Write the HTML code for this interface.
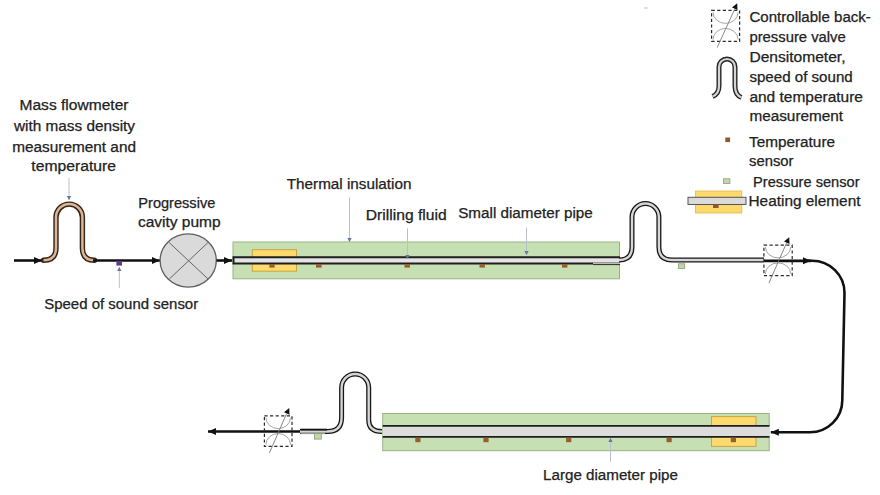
<!DOCTYPE html>
<html><head><meta charset="utf-8">
<style>
html,body{margin:0;padding:0;background:#fff;width:880px;height:495px;overflow:hidden}
svg{display:block}
text{font-family:"Liberation Sans",sans-serif;font-size:13.8px;fill:#222;stroke:#222;stroke-width:0.25px}
</style></head>
<body>
<svg width="880" height="495" viewBox="0 0 880 495">
<defs>
<marker id="ah" markerWidth="10" markerHeight="10" refX="9" refY="5" orient="auto" markerUnits="userSpaceOnUse"><path d="M1,1.5 L9,5 L1,8.5 Z" fill="#111"/></marker>
<marker id="ap" markerWidth="6" markerHeight="6" refX="4.5" refY="3" orient="auto" markerUnits="userSpaceOnUse"><path d="M0.5,0.8 L4.5,3 L0.5,5.2 Z" fill="#64789a"/></marker>
</defs>

<!-- ===== Left: inlet, flowmeter, pump ===== -->
<line x1="14" y1="260.5" x2="42" y2="260.5" stroke="#111" stroke-width="2.6" marker-end="url(#ah)"/>
<path d="M43.5,260.3 Q56,260.3 56,248 L56,217.3 A13.2,13.2 0 0 1 82.4,217.3 L82.4,248 Q82.4,260.3 94.5,260.3" fill="none" stroke="#35261c" stroke-width="5.4" stroke-linecap="round"/>
<path d="M43.5,260.3 Q56,260.3 56,248 L56,217.3 A13.2,13.2 0 0 1 82.4,217.3 L82.4,248 Q82.4,260.3 94.5,260.3" fill="none" stroke="#dcb496" stroke-width="2.5"/>
<line x1="93" y1="260.5" x2="160" y2="260.5" stroke="#111" stroke-width="2.6" marker-end="url(#ah)"/>
<rect x="116.4" y="260.8" width="5.6" height="4.8" fill="#5e3a8e"/>
<!-- pump -->
<ellipse cx="188.2" cy="260.5" rx="28.1" ry="26.6" fill="#dadada" stroke="#5e5e5e" stroke-width="1.3"/>
<line x1="169.1" y1="242.5" x2="208" y2="278.9" stroke="#666" stroke-width="1"/>
<line x1="208" y1="242.5" x2="169.4" y2="278.9" stroke="#666" stroke-width="1"/>
<line x1="216.5" y1="260.5" x2="232" y2="260.5" stroke="#111" stroke-width="2.6" marker-end="url(#ah)"/>

<!-- ===== Top green insulation ===== -->
<rect x="233" y="242" width="386.5" height="36.8" fill="#c6e0b4" stroke="#97b384" stroke-width="1"/>
<rect x="252.3" y="249.7" width="44.2" height="21.5" fill="#fdd96e" stroke="#c9a640" stroke-width="1"/>
<rect x="233.5" y="257.3" width="386.5" height="6.3" fill="#e4e4e4"/>
<path d="M620,257.3 L233.5,257.3 L233.5,263.6 L620,263.6" fill="none" stroke="#1e1e1e" stroke-width="2"/>
<path d="M593,263.3 L620,263.3" stroke="#c4c4c4" stroke-width="1.3"/>
<path d="M593,264.6 L620,264.6" stroke="#2a2a2a" stroke-width="0.9"/>
<!-- sensors top -->
<g fill="#96602e">
<rect x="269.3" y="264" width="5.4" height="3.6"/>
<rect x="316" y="264" width="5.6" height="3.6"/>
<rect x="404.5" y="264" width="5.4" height="3.6"/>
<rect x="479.5" y="264" width="5.4" height="3.6"/>
<rect x="562" y="264" width="5.4" height="3.6"/>
</g>

<!-- right small U tube -->
<path d="M619,260 Q632,260 632,247 L632,217 A13.45,13.45 0 0 1 658.9,217 L658.9,247 Q658.9,260 672,260 L764,260" fill="none" stroke="#161616" stroke-width="5.0"/>
<path d="M619,260 Q632,260 632,247 L632,217 A13.45,13.45 0 0 1 658.9,217 L658.9,247 Q658.9,260 672,260 L764,260" fill="none" stroke="#d6d6d6" stroke-width="2.4"/>
<rect x="678.5" y="263.8" width="6.2" height="4.6" fill="#c4d6a8" stroke="#8d9a7a" stroke-width="0.8"/>

<!-- valve right -->
<line x1="764" y1="260.8" x2="811" y2="260.8" stroke="#111" stroke-width="2.8" marker-end="url(#ah)"/>
<g id="valve1">
<rect x="763.9" y="245.1" width="28.3" height="30.6" fill="none" stroke="#2a2a2a" stroke-width="1.2" stroke-dasharray="3.2,2.4"/>
<path d="M765.4,246.9 A12.65,11.00 0 0 0 790.7,246.9 M765.4,273.9 A12.65,11.00 0 0 1 790.7,273.9" fill="none" stroke="#9a9a9a" stroke-width="0.9"/>
<line x1="768.9" y1="283.1" x2="786.5" y2="243" stroke="#7a7a7a" stroke-width="0.9"/>
<path d="M789.2,237.2 L789.5,243.9 L784.0,241.5 Z" fill="#111"/>
</g>
<!-- curve down -->
<path d="M808,260.7 L812,260.7 A32.5,32 0 0 1 844.5,292.7 L842.3,400.2 A32.3,32 0 0 1 810,432.2 L770.8,432.2" fill="none" stroke="#111" stroke-width="2.6" marker-end="url(#ah)"/>

<!-- ===== Bottom green insulation ===== -->
<rect x="382.7" y="413.5" width="386.5" height="37.2" fill="#c6e0b4" stroke="#97b384" stroke-width="1"/>
<rect x="711.5" y="416.6" width="44.5" height="29.8" fill="#fdd96e" stroke="#c9a640" stroke-width="1"/>
<rect x="382.7" y="425.7" width="387.3" height="11.1" fill="#dcdcdc"/>
<path d="M382.7,425.8 L769.5,425.8 M382.7,436.8 L769.5,436.8" stroke="#1e1e1e" stroke-width="1.8"/>
<g fill="#96602e">
<rect x="415.3" y="437.6" width="5.2" height="4.6"/>
<rect x="483.4" y="437.6" width="5.2" height="4.6"/>
<rect x="566.1" y="437.6" width="5.2" height="4.6"/>
<rect x="666.5" y="437.6" width="5.2" height="4.6"/>
<rect x="730.8" y="437.6" width="5.2" height="4.6"/>
</g>

<!-- lower U tube -->
<path d="M300,431.5 L327.6,431.5 Q341.6,431.5 341.6,417.5 L341.6,387.5 A13.55,13.55 0 0 1 368.7,387.5 L368.7,420 Q368.7,431.5 382,431.5" fill="none" stroke="#161616" stroke-width="5.0"/>
<path d="M300,431.5 L327.6,431.5 Q341.6,431.5 341.6,417.5 L341.6,387.5 A13.55,13.55 0 0 1 368.7,387.5 L368.7,420 Q368.7,431.5 382,431.5" fill="none" stroke="#d6d6d6" stroke-width="2.4"/>
<path d="M300.5,433.7 L325,433.7" stroke="#b8b8b8" stroke-width="1"/>
<path d="M300.5,429.6 L327,429.6" stroke="#111" stroke-width="1.8"/>
<rect x="314.5" y="433.6" width="6.8" height="5.5" fill="#c4d6a8" stroke="#8d9a7a" stroke-width="0.8"/>

<!-- outlet arrow + valve -->
<line x1="300" y1="431.5" x2="208" y2="431.5" stroke="#111" stroke-width="2.6" marker-end="url(#ah)"/>
<g id="valve2" transform="translate(0,0.8)">
<rect x="264.4" y="415" width="27.6" height="30.6" fill="none" stroke="#2a2a2a" stroke-width="1.2" stroke-dasharray="3.2,2.4"/>
<path d="M265.9,416.8 A12.30,11.00 0 0 0 290.5,416.8 M265.9,443.8 A12.30,11.00 0 0 1 290.5,443.8" fill="none" stroke="#9a9a9a" stroke-width="0.9"/>
<line x1="269.4" y1="452.2" x2="286.5" y2="413" stroke="#7a7a7a" stroke-width="0.9"/>
<path d="M289.2,407.2 L289.5,413.9 L284.0,411.5 Z" fill="#111"/>
</g>

<!-- ===== Legend ===== -->
<g id="valve3">
<rect x="711.6" y="10.4" width="28" height="31" fill="none" stroke="#2a2a2a" stroke-width="1.2" stroke-dasharray="3.2,2.4"/>
<path d="M713.1,12.2 A12.50,11.20 0 0 0 738.1,12.2 M713.1,39.6 A12.50,11.20 0 0 1 738.1,39.6" fill="none" stroke="#9a9a9a" stroke-width="0.9"/>
<line x1="717.2" y1="47.5" x2="734.5" y2="9.5" stroke="#7a7a7a" stroke-width="0.9"/>
<path d="M737.2,3.2 L737.5,9.9 L732.0,7.4 Z" fill="#111"/>
</g>
<path d="M712.5,96.5 Q719,94 719,86 L719,67 A8,8 0 0 1 735,67 L735,86 Q735,95 741.5,97.5" fill="none" stroke="#262626" stroke-width="5.0"/>
<path d="M712.5,96.5 Q719,94 719,86 L719,67 A8,8 0 0 1 735,67 L735,86 Q735,95 741.5,97.5" fill="none" stroke="#d4d4d4" stroke-width="2.2"/>
<rect x="725.3" y="137.5" width="4.8" height="4.6" fill="#8c5a2e"/>
<rect x="723.5" y="178.8" width="6.4" height="4.6" fill="#c4d6a8" stroke="#8d9a7a" stroke-width="0.8"/>
<rect x="695.5" y="191" width="46.3" height="22" fill="#fdd96e" stroke="#e0b848" stroke-width="0.8"/>
<rect x="688" y="197.3" width="58" height="7.2" fill="#dadada" stroke="#555" stroke-width="1"/>
<rect x="713" y="204.5" width="5.6" height="3.5" fill="#8c5a2e"/>

<!-- ===== Pointers ===== -->
<g stroke="#b9c0cc" stroke-width="1" fill="none">
<line x1="69" y1="178" x2="69" y2="200" marker-end="url(#ap)"/>
<line x1="119.3" y1="288" x2="119.3" y2="267" marker-end="url(#ap)"/>
<line x1="349.5" y1="197.5" x2="349.5" y2="242" marker-end="url(#ap)"/>
<line x1="407.5" y1="228.3" x2="407.5" y2="259" marker-end="url(#ap)"/>
<line x1="526.5" y1="227.7" x2="526.5" y2="255" marker-end="url(#ap)"/>
<line x1="610.5" y1="461.7" x2="610.5" y2="438" marker-end="url(#ap)"/>
</g>

<ellipse cx="645.9" cy="7.9" rx="2.2" ry="1" fill="#dcdcdc"/>
<!-- ===== Texts ===== -->
<text x="19.5" y="110.3" textLength="109" lengthAdjust="spacingAndGlyphs">Mass flowmeter</text>
<text x="14" y="131" textLength="121" lengthAdjust="spacingAndGlyphs">with mass density</text>
<text x="12.2" y="151.7" textLength="123.8" lengthAdjust="spacingAndGlyphs">measurement and</text>
<text x="31.3" y="170.7" textLength="84.7" lengthAdjust="spacingAndGlyphs">temperature</text>
<text x="138.3" y="208.1" textLength="77" lengthAdjust="spacingAndGlyphs">Progressive</text>
<text x="137.9" y="226.9" textLength="82.8" lengthAdjust="spacingAndGlyphs">cavity pump</text>
<text x="44.2" y="308.6" textLength="154" lengthAdjust="spacingAndGlyphs">Speed of sound sensor</text>
<text x="286.8" y="189.1" textLength="124.6" lengthAdjust="spacingAndGlyphs">Thermal insulation</text>
<text x="365.8" y="219.7" textLength="80.9" lengthAdjust="spacingAndGlyphs">Drilling fluid</text>
<text x="458.2" y="218.3" textLength="134.6" lengthAdjust="spacingAndGlyphs">Small diameter pipe</text>
<text x="543" y="480.1" textLength="135" lengthAdjust="spacingAndGlyphs">Large diameter pipe</text>

<text x="749.4" y="21.5" textLength="121.5" lengthAdjust="spacingAndGlyphs">Controllable back-</text>
<text x="749.4" y="41.7" textLength="96.4" lengthAdjust="spacingAndGlyphs">pressure valve</text>
<text x="749.4" y="62" textLength="96.1" lengthAdjust="spacingAndGlyphs">Densitometer,</text>
<text x="749.4" y="81.6" textLength="103.3" lengthAdjust="spacingAndGlyphs">speed of sound</text>
<text x="749.4" y="102.4" textLength="113.6" lengthAdjust="spacingAndGlyphs">and temperature</text>
<text x="749.4" y="120.5" textLength="93.7" lengthAdjust="spacingAndGlyphs">measurement</text>
<text x="749" y="146.8" textLength="86" lengthAdjust="spacingAndGlyphs">Temperature</text>
<text x="749" y="165.8" textLength="44.5" lengthAdjust="spacingAndGlyphs">sensor</text>
<text x="753.1" y="186.6" textLength="106.4" lengthAdjust="spacingAndGlyphs">Pressure sensor</text>
<text x="748.5" y="206.4" textLength="112" lengthAdjust="spacingAndGlyphs">Heating element</text>
</svg>
</body></html>
